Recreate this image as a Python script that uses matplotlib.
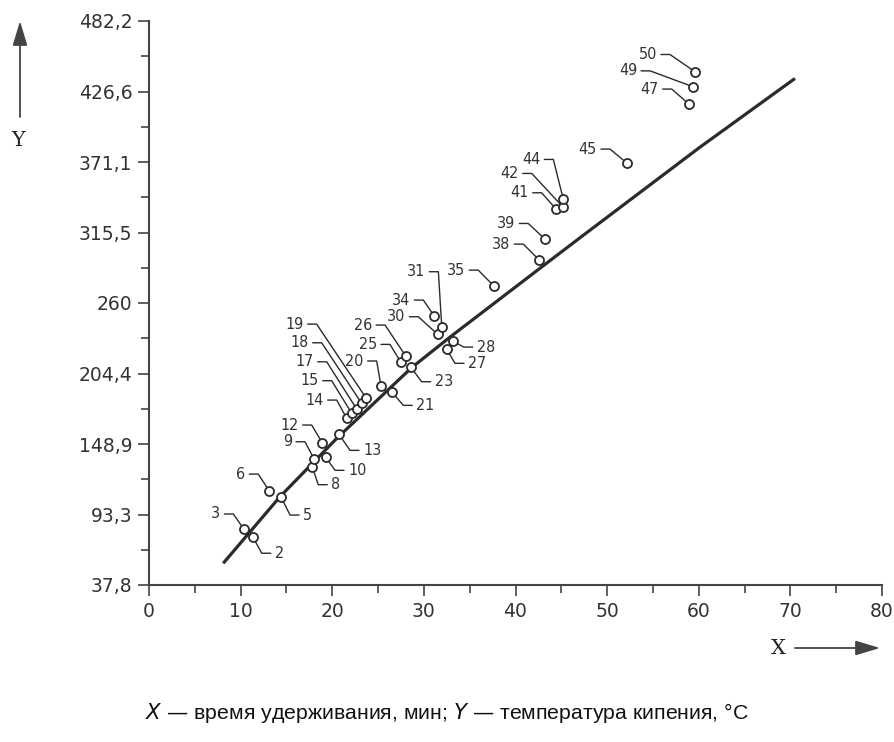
import math
import matplotlib
matplotlib.use('Agg')
import matplotlib.pyplot as plt

# retention time (min) / boiling point (deg C) of calibration points
point_no = ['2', '3', '5', '6', '8', '9', '10', '12', '13', '14', '15', '17', '18', '19',
            '20', '21', '23', '25', '26', '27', '28', '30', '31', '34', '35', '38', '39',
            '41', '42', '44', '45', '47', '49', '50']
point_x = [11.32, 10.37, 14.41, 13.13, 17.82, 18.04, 19.29, 18.91, 20.74, 21.58, 22.12,
           22.67, 23.21, 23.68, 25.32, 26.55, 28.59, 27.50, 28.02, 32.49, 33.15, 31.51,
           31.95, 31.14, 37.65, 42.60, 43.22, 44.42, 45.22, 45.22, 52.20, 58.97, 59.41, 59.62]
point_y = [75.9, 81.7, 107.1, 111.8, 131.0, 136.8, 138.4, 149.9, 156.5, 169.1, 173.1,
           176.4, 180.9, 185.3, 194.6, 189.6, 209.3, 213.2, 218.2, 223.5, 230.0, 235.3,
           241.3, 249.7, 273.3, 293.8, 310.3, 334.0, 335.3, 341.6, 370.0, 416.5, 430.3, 442.1]

# calibration curve
curve_x = [8.1, 14.3, 20.5, 28.7, 32.9, 43.4, 47.0, 60.1, 70.5]
curve_y = [54.9, 107.4, 153.4, 209.3, 233.4, 291.4, 311.2, 382.6, 436.9]

x_ticks = [0, 10, 20, 30, 40, 50, 60, 70, 80]
y_ticks = [37.8, 93.3, 148.9, 204.4, 260, 315.5, 371.1, 426.6, 482.2]
y_tick_labels = ['37,8', '93,3', '148,9', '204,4', '260', '315,5', '371,1', '426,6', '482,2']

caption = 'время удерживания, мин; '
caption2 = 'температура кипения, °C'

# leader knee offsets in pixels (dx right, dy down) relative to each point
knee = {
    '2': (9, 16.6), '3': (-10.7, -15.3), '5': (9, 18), '6': (-11, -17), '8': (6, 18),
    '9': (-9.3, -17.6), '10': (9.3, 13), '12': (-10.6, -17.7), '13': (11, 16),
    '14': (-10, -18.3), '15': (-20, -32.6), '17': (-30, -47.3), '18': (-40, -60.6),
    '19': (-49.3, -73.7), '20': (-4.3, -25), '21': (11, 13), '23': (10.7, 14.4),
    '25': (-11, -18), '26': (-20.7, -31), '27': (8.3, 14), '28': (11, 6),
    '30': (-19.4, -17.6), '31': (-3.4, -55), '34': (-11, -16), '35': (-15.7, -16),
    '38': (-16, -16), '39': (-16.7, -15.7), '41': (-14.3, -16.3), '42': (-31.6, -34),
    '44': (-10, -40), '45': (-17.3, -14.3), '47': (-17.6, -15.3), '49': (-43.3, -16),
    '50': (-25.3, -17.4),
}

ink = '#2b2b2b'
num_font = dict(family='DejaVu Sans', fontstretch='condensed', color='#333333')

fig = plt.figure(figsize=(8.94, 7.42), dpi=100)
ax = fig.add_axes([149 / 894, 157 / 742, 733 / 894, 564 / 742])

ax.plot(curve_x, curve_y, color=ink, lw=2.3, solid_capstyle='butt', zorder=2)

for lab, x, y in zip(point_no, point_x, point_y):
    kdx, kdy = knee[lab]
    side = 1 if kdx > 0 else -1
    ex, ey = kdx + side * 9, -kdy
    theta = math.degrees(math.atan2(-kdy, kdx))
    ax.annotate('', xy=(x, y), xytext=(ex, ey), textcoords='offset pixels',
                arrowprops=dict(arrowstyle='-', color=ink, lw=1.0, shrinkA=0, shrinkB=2.8,
                                connectionstyle='angle,angleA=0,angleB=%.1f,rad=0' % theta))
    ax.annotate(lab, xy=(x, y), xytext=(ex + side * 4, ey), textcoords='offset pixels',
                ha='left' if side > 0 else 'right', va='center', fontsize=11.5, **num_font)

ax.plot(point_x, point_y, 'o', ms=6.5, mfc='white', mec=ink, mew=1.3, zorder=3)

ax.set_xlim(0, 80)
ax.set_ylim(37.8, 482.2)
ax.set_xticks(x_ticks)
ax.set_xticks([5, 15, 25, 35, 45, 55, 65, 75], minor=True)
ax.set_yticks(y_ticks)
ax.set_yticklabels(y_tick_labels)
ax.set_yticks([(a + b) / 2 for a, b in zip(y_ticks[:-1], y_ticks[1:])], minor=True)
for s in ['top', 'right']:
    ax.spines[s].set_visible(False)
for s in ['left', 'bottom']:
    ax.spines[s].set_linewidth(1.5)
    ax.spines[s].set_color('#444444')
ax.tick_params(which='major', length=8, width=1.2, color='#444444', pad=4)
ax.tick_params(which='minor', length=5.5, width=1.2, color='#444444')
for t in ax.get_xticklabels() + ax.get_yticklabels():
    t.set_fontsize(13.5)
    t.set_fontfamily('DejaVu Sans')
    t.set_color('#333333')

# axis arrows and letters
head = '-|>,head_length=1.5,head_width=0.45'
ax.annotate('', xy=(20, 721), xycoords='figure pixels', xytext=(20, 625),
            textcoords='figure pixels',
            arrowprops=dict(arrowstyle=head, color='#444444', lw=1.3, shrinkA=0, shrinkB=0))
fig.text(18 / 894, 602 / 742, 'Y', family='DejaVu Serif', fontsize=15, color='#222222',
         ha='center', va='center')
ax.annotate('', xy=(880, 94), xycoords='figure pixels', xytext=(795, 94),
            textcoords='figure pixels',
            arrowprops=dict(arrowstyle=head, color='#444444', lw=1.3, shrinkA=0, shrinkB=0))
fig.text(778 / 894, 94 / 742, 'X', family='DejaVu Serif', fontsize=15, color='#222222',
         ha='center', va='center')

fig.text(447 / 894, 29 / 742, r'$\it{X}$ — ' + caption + r'$\it{Y}$ — ' + caption2,
         family='Liberation Sans', fontsize=15.3, color='#111111', ha='center', va='center')

fig.savefig('out.png', dpi=100, facecolor='white')
